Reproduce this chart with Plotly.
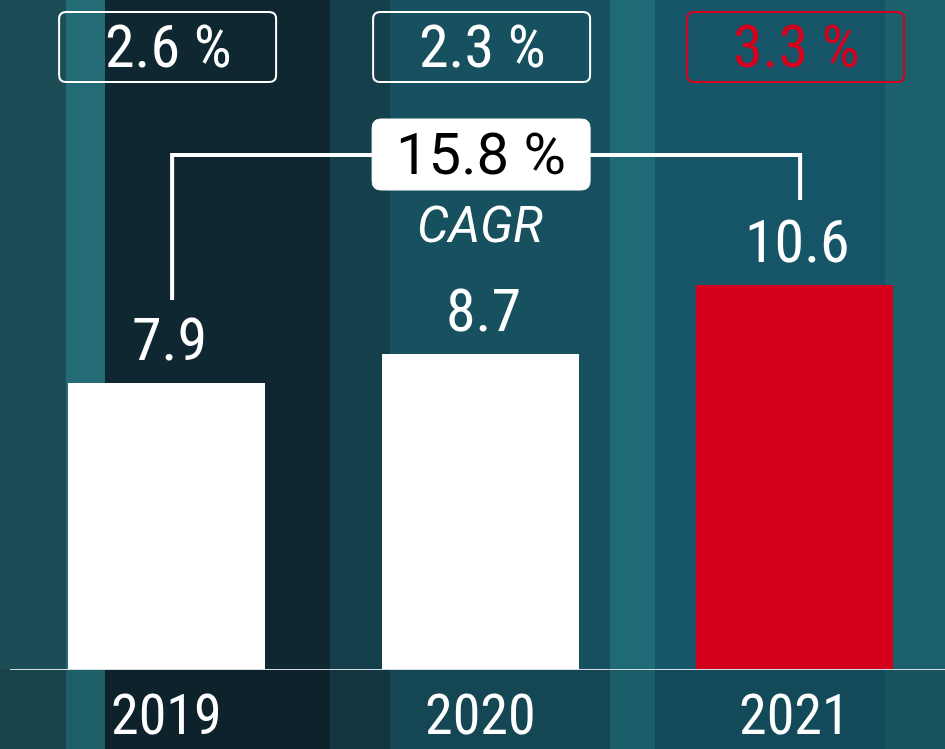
"""
Bar chart with growth boxes and a CAGR bracket on a dark teal backdrop
"""

import plotly.graph_objects as go

# data
years = ["2019", "2020", "2021"]
values = [7.9, 8.7, 10.6]
growth = ["2.6 %", "2.3 %", "3.3 %"]
cagr_text = "15.8 %"
cagr_label = "CAGR"

bar_colors = ["#ffffff", "#ffffff", "#d5001c"]
box_colors = ["#ffffff", "#ffffff", "#d5001c"]

# page geometry (pixels)
W, H = 945, 749
BOTTOM = 79                  # margin under the baseline
PLOT_H = H - BOTTOM          # 670
PX_PER_UNIT = 36.3
X_START = -0.529             # data x at left page edge
PX_PER_CAT = 314

FONT = "Roboto Condensed, Liberation Sans Narrow, DejaVu Sans Condensed, Roboto, sans-serif"

# background stripes: (left px, right px, colour)
stripes = [
    (0, 66, "#1c4d57"),
    (66, 105, "#236b75"),
    (105, 330, "#0f2731"),
    (330, 390, "#163f4c"),
    (390, 610, "#17505f"),
    (610, 655, "#1e6a77"),
    (655, 885, "#165567"),
    (885, 945, "#1c606c"),
]


def rounded_rect(x0, y0, x1, y1, r):
    return (f"M {x0 + r},{y0} L {x1 - r},{y0} Q {x1},{y0} {x1},{y0 + r} "
            f"L {x1},{y1 - r} Q {x1},{y1} {x1 - r},{y1} L {x0 + r},{y1} "
            f"Q {x0},{y1} {x0},{y1 - r} L {x0},{y0 + r} Q {x0},{y0} {x0 + r},{y0} Z")


fig = go.Figure()

fig.add_trace(go.Bar(
    x=list(range(len(years))),
    y=values,
    width=0.627,
    marker=dict(color=bar_colors, line=dict(width=0)),
    hoverinfo="skip",
))

shapes = []
for x0, x1, c in stripes:
    shapes.append(dict(type="rect", xref="paper", yref="paper", layer="below",
                       x0=x0 / W, x1=x1 / W, y0=-BOTTOM / PLOT_H, y1=1,
                       fillcolor=c, line=dict(width=0)))
# slight darkening below the baseline
shapes.append(dict(type="rect", xref="paper", yref="paper", layer="below",
                   x0=0, x1=1, y0=-BOTTOM / PLOT_H, y1=0,
                   fillcolor="rgba(0,0,0,0.12)", line=dict(width=0)))

# baseline
shapes.append(dict(type="line", xref="paper", yref="y", x0=10 / W, x1=1, y0=0, y1=0,
                   line=dict(color="#d6dde0", width=2)))

annotations = []
for i, (yr, v, g) in enumerate(zip(years, values, growth)):
    # value label above bar
    annotations.append(dict(x=i, y=v, xref="x", yref="y", text=str(v),
                            showarrow=False, yanchor="middle", yshift=44, xshift=3,
                            font=dict(family=FONT, size=60, color="white")))
    # year label under baseline
    annotations.append(dict(x=i, y=0, xref="x", yref="y", text=yr,
                            showarrow=False, yanchor="middle", yshift=-45,
                            font=dict(family=FONT, size=56, color="white")))
    # growth box on top
    shapes.append(dict(type="path", xref="x", yref="paper",
                       xsizemode="pixel", ysizemode="pixel",
                       xanchor=i, yanchor=1,
                       path=rounded_rect(-107, -82, 110, -12, 7),
                       line=dict(color=box_colors[i], width=2),
                       fillcolor="rgba(0,0,0,0)"))
    annotations.append(dict(x=i, y=1, xref="x", yref="paper", text=g,
                            showarrow=False, yanchor="middle", yshift=-46, xshift=2,
                            font=dict(family=FONT, size=60, color=box_colors[i])))

# CAGR bracket, anchored on the middle category
shapes.append(dict(type="path", xref="x", yref="paper",
                   xsizemode="pixel", ysizemode="pixel", xanchor=1, yanchor=1,
                   path="M -308,-300 L -308,-155 L 320,-155 L 320,-200",
                   line=dict(color="white", width=4)))
shapes.append(dict(type="path", xref="x", yref="paper",
                   xsizemode="pixel", ysizemode="pixel", xanchor=1, yanchor=1,
                   path=rounded_rect(-108, -190, 110, -119, 9),
                   line=dict(color="white", width=1), fillcolor="white"))
annotations.append(dict(x=1, y=1, xref="x", yref="paper", text=cagr_text,
                        showarrow=False, yanchor="middle", yshift=-154, xshift=1,
                        font=dict(family="Roboto, sans-serif", size=58, color="black")))
annotations.append(dict(x=1, y=1, xref="x", yref="paper", text=f"<i>{cagr_label}</i>",
                        showarrow=False, yanchor="middle", yshift=-225,
                        font=dict(family="Roboto, sans-serif", size=50, color="white")))

fig.update_layout(
    width=W, height=H,
    margin=dict(l=0, r=0, t=0, b=BOTTOM, pad=0),
    paper_bgcolor="#17505f",
    plot_bgcolor="rgba(0,0,0,0)",
    showlegend=False,
    shapes=shapes,
    annotations=annotations,
    bargap=0,
)
fig.update_xaxes(range=[X_START, X_START + W / PX_PER_CAT], visible=False, fixedrange=True)
fig.update_yaxes(range=[0, PLOT_H / PX_PER_UNIT], visible=False, fixedrange=True)

# drop the default page margin so the figure sits at the window's corner
fig.write_html("out.html", config={"displayModeBar": False},
               post_script="document.body.style.margin='0';")
